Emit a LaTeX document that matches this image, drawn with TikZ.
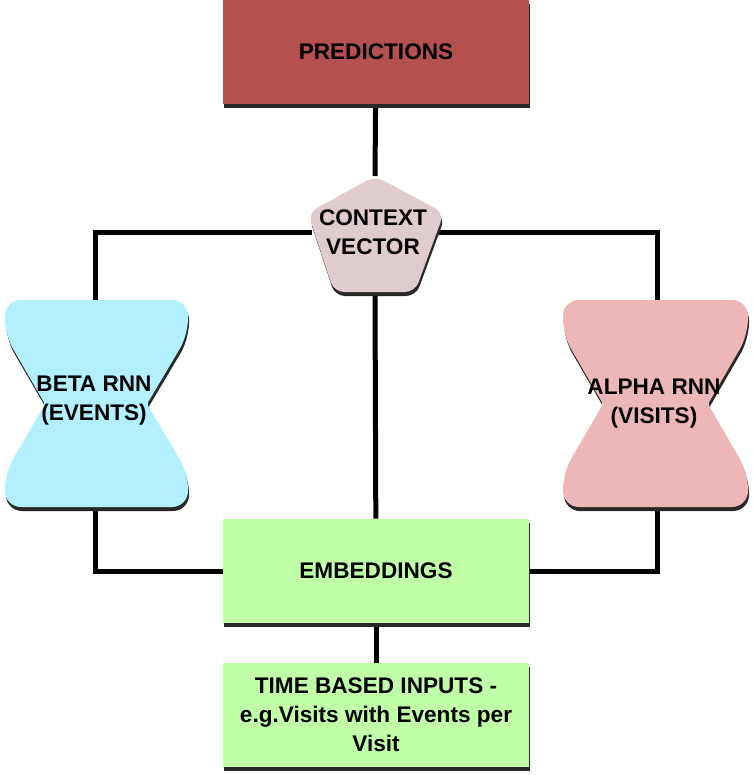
\documentclass[tikz,border=0pt]{standalone}
\usepackage{fontspec}
\setmainfont{Liberation Sans}
\usepackage{xcolor}
\usetikzlibrary{shadows,calc,positioning}
\definecolor{predred}{RGB}{180,80,80}
\definecolor{betablue}{RGB}{178,240,255}
\definecolor{alphapink}{RGB}{238,183,183}
\definecolor{embgreen}{RGB}{192,255,168}
\definecolor{ctxmix}{RGB}{224,204,206}
\definecolor{shadowgray}{RGB}{40,40,40}
\pgfdeclarelayer{background}
\pgfsetlayers{background,main}

\begin{document}
\begin{tikzpicture}[x=0.5pt,y=-0.5pt,
  label font/.style={font=\bfseries\fontsize{11.3}{14.5}\selectfont},
  shade drop/.style={drop shadow={shadow xshift=0.5pt,shadow yshift=-2pt,fill=shadowgray,opacity=1}},
  box/.style={label font,shade drop,minimum width=153pt,minimum height=52pt,inner sep=2pt,align=center},
  wire/.style={line width=2.5pt,black}]
  \useasboundingbox (0,0) rectangle (752,775);
  % Output box
  \node[box,fill=predred] (pred) at (376,52) {PREDICTIONS};
  % Context vector (pentagon)
  \fill[ctxmix,shade drop,rounded corners=5pt] (375,176) -- (444,213) -- (415,292) -- (334,292) -- (308,213) -- cycle;
  \coordinate (ctx-n) at (375,176);
  \coordinate (ctx-s) at (375,292);
  \node[label font,align=center] (ctx) at (373,232) {CONTEXT\\VECTOR};
  % Beta RNN (hourglass)
  \begin{scope}[shift={(5,300)}]
    \fill[betablue,shade drop] (0,18) [rounded corners=8pt] -- (0,0) -- (183,0) -- (183,35) [rounded corners=1pt] -- (142,104) [rounded corners=8pt] -- (183,173) -- (183,207) -- (0,207) -- (0,173) [rounded corners=1pt] -- (40,104) [rounded corners=8pt] -- (0,35) [sharp corners] -- cycle;
    \coordinate (beta-n) at (90,0);
    \coordinate (beta-s) at (90,207);
    \node[label font,align=center] (beta) at (89,101) {BETA RNN\\(EVENTS)};
  \end{scope}
  % Alpha RNN (hourglass)
  \begin{scope}[shift={(563,300)}]
    \fill[alphapink,shade drop] (0,18) [rounded corners=8pt] -- (0,0) -- (185,0) -- (185,35) [rounded corners=1pt] -- (145,104) [rounded corners=8pt] -- (185,173) -- (185,207) -- (0,207) -- (0,173) [rounded corners=1pt] -- (40,104) [rounded corners=8pt] -- (0,35) [sharp corners] -- cycle;
    \coordinate (alpha-n) at (94,0);
    \coordinate (alpha-s) at (94,207);
    \node[label font,align=center] (alpha) at (91,104) {ALPHA RNN\\(VISITS)};
  \end{scope}
  % Inputs
  \node[box,fill=embgreen] (emb) at (376,571) {EMBEDDINGS};
  \node[box,fill=embgreen] (time) at (376,715) {TIME BASED INPUTS -\\e.g.Visits with Events per\\Visit};
  % Connectors
  \begin{pgfonlayer}{background}
    \draw[wire] (pred) -- (ctx-n);
    \draw[wire] (ctx-s) -- (emb);
    \draw[wire] (emb) -- (time);
    \draw[wire] (beta-n) |- (ctx) -| (alpha-n);
    \draw[wire] (beta-s) |- (emb);
    \draw[wire] (alpha-s) |- (emb);
  \end{pgfonlayer}
\end{tikzpicture}
\end{document}
